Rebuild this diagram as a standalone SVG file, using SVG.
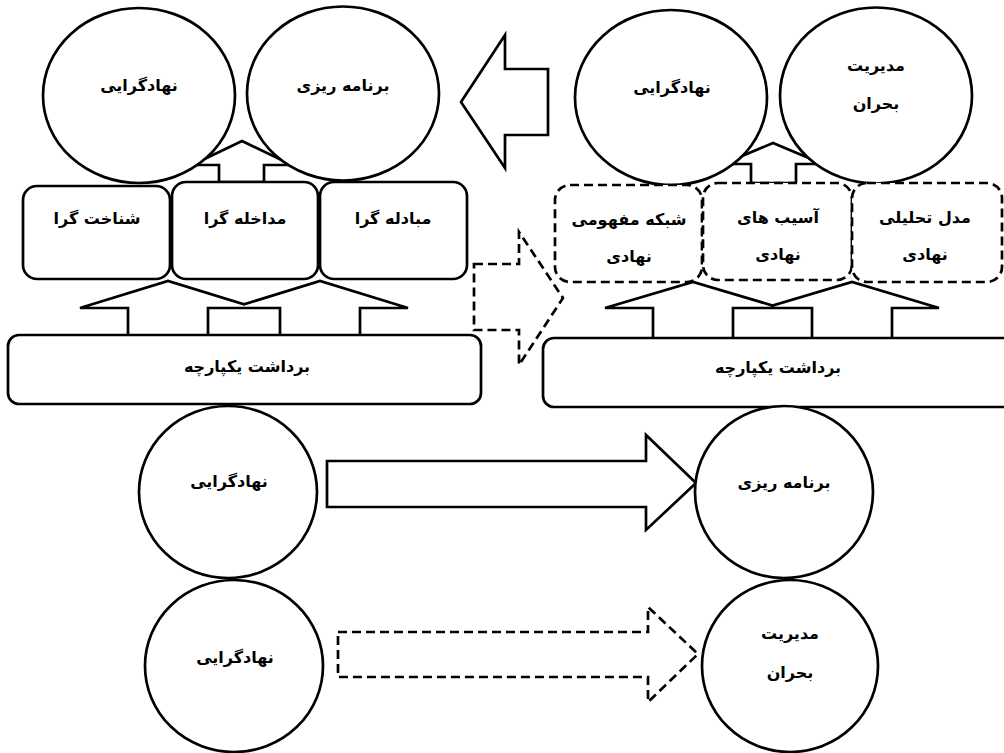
<svg xmlns="http://www.w3.org/2000/svg" width="1004" height="753" viewBox="0 0 1004 753">
<style>
.sh{fill:#fff;stroke:#000;stroke-width:2.7}
.dash{fill:#fff;stroke:#000;stroke-width:2.7;stroke-dasharray:9 5}
.ar{fill:#fff;stroke:#000;stroke-width:2.7;stroke-linejoin:miter}
.ard{fill:none;stroke:#000;stroke-width:2.7;stroke-dasharray:9 5}
text{font-family:"DejaVu Sans","Noto Sans",sans-serif;font-size:16px;font-weight:bold;text-anchor:middle;direction:rtl;fill:#000}
</style>
<rect width="1004" height="753" fill="#fff"/>
<g id="connectors">
<polygon class="ar" points="219,182 219,165 192,165 242,141 292,165 264,165 264,182"/>
<polygon class="ar" points="751,183 751,164 723,164 773,143 823,164 796,164 796,183"/>
<path class="ar" d="M128,335 V308 H80 L168,281 L244,304.3 L320,281 L408,308 H360 V335 M208,335 V308 H280 V335"/>
<path class="ar" d="M653,338 V308 H605 L693,282 L772.5,305.5 L852,282 L939,308 H892 V338 M733,338 V308 H812 V338"/>
<polygon class="ar" points="461,102 505,35 505,69 548,69 548,135 505,135 505,168"/>
<polygon class="ard" points="474,264 519,264 519,232 563,298 519,365 519,330 474,330"/>
<polygon class="ar" points="327,461 646,461 646,435 696,483 646,530 646,507 327,507"/>
<polygon class="ard" points="338,632 648,632 648,607 698,654 648,702 648,677 338,677"/>
</g>
<g id="tl-nahad"><ellipse class="sh" cx="139" cy="95.5" rx="96" ry="87.5"/><text x="139" y="91">نهادگرایی</text></g>
<g id="tl-barname"><ellipse class="sh" cx="343" cy="93.5" rx="96" ry="87"/><text x="343" y="91">برنامه ریزی</text></g>
<g id="box-shenakht"><rect class="sh" x="23" y="186" width="147" height="93" rx="14"/><text x="97" y="224">شناخت گرا</text></g>
<g id="box-modakhele"><rect class="sh" x="172" y="182" width="146" height="97" rx="14"/><text x="245" y="224">مداخله گرا</text></g>
<g id="box-mobadele"><rect class="sh" x="320" y="182" width="147" height="97" rx="14"/><text x="393" y="224">مبادله گرا</text></g>
<g id="box-bardasht-l"><rect class="sh" x="8" y="335" width="473" height="69" rx="11"/><text x="247" y="372">برداشت یکپارچه</text></g>
<g id="tr-nahad"><ellipse class="sh" cx="671" cy="97.5" rx="96" ry="87.5"/><text x="672" y="93">نهادگرایی</text></g>
<g id="tr-modiriat"><ellipse class="sh" cx="876" cy="95.5" rx="96" ry="88"/><text x="876" y="71">مدیریت</text><text x="876" y="109">بحران</text></g>
<g id="box-shabake"><rect class="dash" x="555" y="185" width="147" height="97" rx="15"/><text x="629" y="225">شبکه مفهومی</text><text x="629" y="262">نهادی</text></g>
<g id="box-asib"><rect class="dash" x="703" y="183" width="149" height="97" rx="15"/><text x="778" y="223">آسیب های</text><text x="778" y="260">نهادی</text></g>
<g id="box-model"><rect class="dash" x="852" y="183" width="150" height="99" rx="15"/><text x="925" y="223">مدل تحلیلی</text><text x="925" y="260">نهادی</text></g>
<g id="box-bardasht-r"><rect class="sh" x="543" y="338" width="475" height="69" rx="11"/><text x="778" y="373">برداشت یکپارچه</text></g>
<g id="b-nahad1"><ellipse class="sh" cx="228" cy="492" rx="89" ry="86"/><text x="229" y="487">نهادگرایی</text></g>
<g id="b-barname"><ellipse class="sh" cx="784" cy="492" rx="89" ry="86"/><text x="784" y="488">برنامه ریزی</text></g>
<g id="b-nahad2"><ellipse class="sh" cx="234" cy="666" rx="89" ry="86"/><text x="235" y="663">نهادگرایی</text></g>
<g id="b-modiriat"><ellipse class="sh" cx="790" cy="666" rx="88" ry="86"/><text x="790" y="639">مدیریت</text><text x="790" y="678">بحران</text></g>
</svg>
